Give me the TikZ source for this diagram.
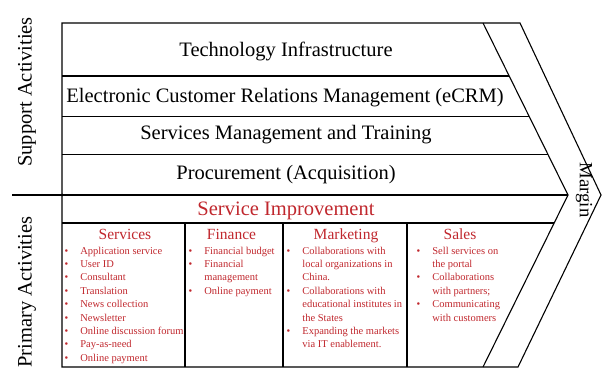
\documentclass[tikz,border=0pt]{standalone}
\usepackage{fontspec}
\setmainfont{Liberation Serif}
\newfontfamily\vcfont{Liberation Serif}
\usetikzlibrary{calc}
\definecolor{vcred}{HTML}{C0272D}
\newcommand{\bul}{\textbullet}

\begin{document}
\begin{tikzpicture}[x=1pt,y=-1pt,
		frame/.style={line width=1.1pt},
		bigtext/.style={font=\vcfont\fontsize{20.5}{24}\selectfont},
		colhead/.style={font=\vcfont\fontsize{15.5}{18}\selectfont, text=vcred},
		blist/.style={anchor=base west, inner sep=0pt, text=vcred, font=\vcfont\fontsize{10.5}{13.4}\selectfont}
		]
		\useasboundingbox (0,0) rectangle (604,371);
		
		% Контур цепочки
		\coordinate (tl) at (62,23);
		\coordinate (tr) at (483,23);
		\coordinate (mid) at (568,195);
		\coordinate (br) at (483,367);
		\coordinate (bl) at (62,367);
		\coordinate (ctr) at (520,23);
		\coordinate (tip) at (601,195);
		\coordinate (cbr) at (518,367);
		\draw[frame] (tl) -- (ctr) -- (tip) -- (cbr) -- (bl) -- cycle;
		\draw[frame] (tr) -- (mid) -- (br);
		\draw[frame] (12,195) -- (mid);
		\fill (62,195) circle (1.5);
		
		% Полосы вспомогательных видов деятельности
		\foreach \f/\n in {0.308/1,0.541/2,0.767/3} {
			\coordinate (s\n) at ($(tr)!\f!(mid)$);
			\draw[frame] (s\n -| tl) -- (s\n);
		}
		\coordinate (p1) at ($(mid)!0.163!(br)$);
		\draw[frame] (p1 -| tl) -- (p1);
		\foreach \x in {185,283,407}
			\draw[frame] (\x,223) -- (\x,367);
		
		% Подписи
		\node[bigtext, anchor=base] (tech) at (286,57) {Technology Infrastructure};
		\node[bigtext, anchor=base] (ecrm) at (285,103) {Electronic Customer Relations Management (eCRM)};
		\node[bigtext, anchor=base] (train) at (286,140) {Services Management and Training};
		\node[bigtext, anchor=base] (proc) at (286,180) {Procurement (Acquisition)};
		\node[bigtext, anchor=base, text=vcred] (improve) at (286,215) {Service Improvement};
		\node[bigtext, rotate=90] (support) at (27,92) {Support Activities};
		\node[bigtext, rotate=90] (primary) at (27,292) {Primary Activities};
		\node[font=\vcfont\fontsize{18.7}{22}\selectfont, rotate=-90] (margin) at (584,190) {Margin};
		
		% Основные виды деятельности
		\node[colhead, anchor=base] (services) at (125,239) {Services};
		\node[colhead, anchor=base] (finance) at (231.5,239) {Finance};
		\node[colhead, anchor=base] (marketing) at (346,239) {Marketing};
		\node[colhead, anchor=base] (sales) at (460,239) {Sales};
		
		\node[blist] (servlist) at (64.5,254) {\begin{tabular}[t]{@{}l@{\hspace{12pt}}l@{}}
				\bul & Application service\\
				\bul & User ID\\
				\bul & Consultant\\
				\bul & Translation\\
				\bul & News collection\\
				\bul & Newsletter\\
				\bul & Online discussion forum\\
				\bul & Pay-as-need\\
				\bul & Online payment
			\end{tabular}};
		\node[blist] (finlist) at (188.5,254) {\begin{tabular}[t]{@{}l@{\hspace{12pt}}l@{}}
				\bul & Financial budget\\
				\bul & Financial\\
				& management\\
				\bul & Online payment
			\end{tabular}};
		\node[blist] (mktlist) at (286.5,254) {\begin{tabular}[t]{@{}l@{\hspace{12pt}}l@{}}
				\bul & Collaborations with\\
				& local organizations in\\
				& China.\\
				\bul & Collaborations with\\
				& educational institutes in\\
				& the States\\
				\bul & Expanding the markets\\
				& via IT enablement.
			\end{tabular}};
		\node[blist] (salelist) at (416.5,254) {\begin{tabular}[t]{@{}l@{\hspace{12pt}}l@{}}
				\bul & Sell services on\\
				& the portal\\
				\bul & Collaborations\\
				& with partners;\\
				\bul & Communicating\\
				& with customers
			\end{tabular}};
		
	\end{tikzpicture}
\end{document}
